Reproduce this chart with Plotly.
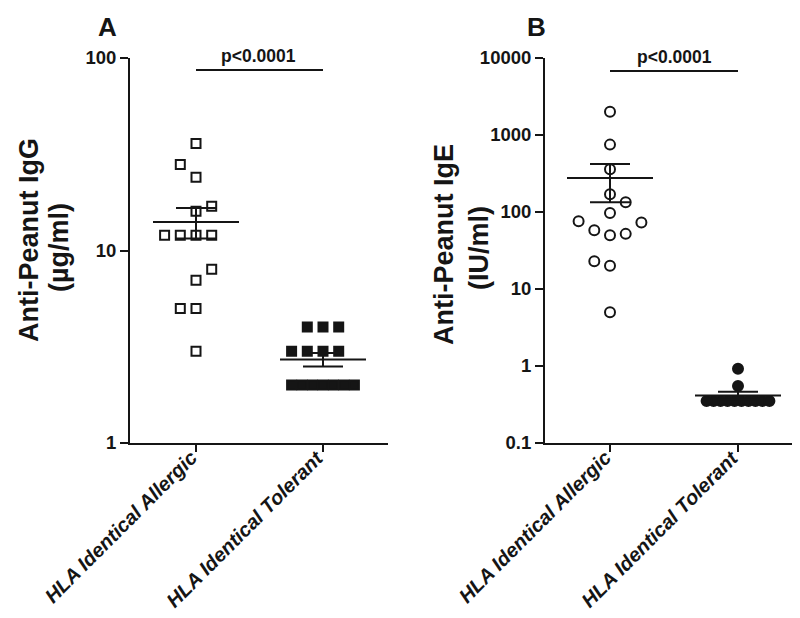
import numpy as np
import plotly.graph_objects as go

W, H = 800, 618

# ---------------- data ----------------
categories = ["HLA Identical Allergic", "HLA Identical Tolerant"]
igg_allergic = [36, 28, 24, 17, 16, 12, 12, 12, 12, 8, 7, 5, 5, 3]
igg_tolerant = [4, 4, 4, 3, 3, 3, 3, 2, 2, 2, 2, 2, 2, 2]
ige_allergic = [2000, 750, 360, 170, 134, 97, 76, 73, 58, 52, 50, 23, 20, 5]
ige_tolerant = [0.92, 0.55, 0.35, 0.35, 0.35, 0.35, 0.35, 0.35, 0.35, 0.35, 0.35, 0.35]
igg_ticks = [1, 10, 100]
ige_ticks = [0.1, 1, 10, 100, 1000, 10000]
p_label = "p<0.0001"
panel_letters = ["A", "B"]
igg_title = ["Anti-Peanut IgG", "(µg/ml)"]
ige_title = ["Anti-Peanut IgE", "(IU/ml)"]

# ---------------- geometry (pixels) ----------------
FONT = "Liberation Sans"
INK = "#151515"
# panel A
A_left, A_right, A_top, A_bot = 122, 380, 50, 435
A_cat = (188, 315)
# panel B
B_left, B_right, B_top, B_bot = 537, 790, 50, 435
B_cat = (602, 730)
SLOT_PX = 15.7


def xrange_from(left, right, cat):
    ppu = cat[1] - cat[0]
    return [(left - cat[0]) / ppu, (right - cat[0]) / ppu], ppu


A_xr, A_ppu = xrange_from(A_left, A_right, A_cat)
B_xr, B_ppu = xrange_from(B_left, B_right, B_cat)
A_ppd = (A_bot - A_top) / (np.log10(igg_ticks[-1]) - np.log10(igg_ticks[0]))
B_ppd = (B_bot - B_top) / (np.log10(ige_ticks[-1]) - np.log10(ige_ticks[0]))


def swarm(values, px_per_dec, thr_px=14.5, max_slot=2):
    v = np.asarray(values, float)
    ly = np.log10(v) * px_per_dec
    order = np.argsort(v, kind="stable")
    slots = np.zeros(len(v))
    placed = []
    sign = -1
    for i in order:
        near = [slots[j] for j in placed if abs(ly[j] - ly[i]) < thr_px]
        if 0 not in near:
            s = 0
        else:
            k = 1
            while True:
                if sign * k not in near:
                    s = sign * k
                    break
                if -sign * k not in near:
                    s = -sign * k
                    break
                k += 1
            sign = -1 if s > 0 else 1
        slots[i] = s
        placed.append(i)
    for val in np.unique(v):
        idx = np.where(v == val)[0]
        if np.abs(slots[idx]).max() > max_slot:
            idx_sorted = idx[np.argsort(slots[idx], kind="stable")]
            slots[idx_sorted] = np.linspace(-max_slot, max_slot, len(idx))
    return slots


def px2paper_x(px):
    return px / W


def px2paper_y(py):
    return 1 - py / H


fig = go.Figure()


def add_group(vals, cat_idx, ppd, ppu, xa, ya, symbol, fill):
    slots = swarm(vals, ppd)
    x = cat_idx + slots * SLOT_PX / ppu
    fig.add_trace(go.Scatter(
        x=x, y=vals, mode="markers", xaxis=xa, yaxis=ya, showlegend=False,
        marker=dict(symbol=symbol, size=9 if symbol == "square" else 10,
                    color=fill, line=dict(color=INK, width=2)),
        hoverinfo="y"))


add_group(igg_allergic, 0, A_ppd, A_ppu, "x", "y", "square", "white")
add_group(igg_tolerant, 1, A_ppd, A_ppu, "x", "y", "square", INK)
add_group(ige_allergic, 0, B_ppd, B_ppu, "x2", "y2", "circle", "white")
add_group(ige_tolerant, 1, B_ppd, B_ppu, "x2", "y2", "circle", INK)


def mean_sem_trace(groups, xa, ya, ppu):
    xs, ys = [], []
    mean_half = 43 / ppu
    cap_half = 20 / ppu
    for c, vals in groups:
        v = np.asarray(vals, float)
        m = v.mean()
        s = v.std(ddof=1) / np.sqrt(len(v))
        xs += [c - mean_half, c + mean_half, None,
               c - cap_half, c + cap_half, None,
               c - cap_half, c + cap_half, None,
               c, c, None]
        ys += [m, m, None, m + s, m + s, None, m - s, m - s, None, m - s, m + s, None]
    fig.add_trace(go.Scatter(x=xs, y=ys, mode="lines", xaxis=xa, yaxis=ya,
                             showlegend=False, hoverinfo="skip",
                             line=dict(color=INK, width=2)))


mean_sem_trace([(0, igg_allergic), (1, igg_tolerant)], "x", "y", A_ppu)
mean_sem_trace([(0, ige_allergic), (1, ige_tolerant)], "x2", "y2", B_ppu)

tickfont = dict(family=FONT, size=18.5, color=INK, weight="bold")
catfont = dict(family=FONT, size=20, color=INK, weight="bold", style="italic")

common_x = dict(tickmode="array", tickvals=[0, 1], showticklabels=False,
                ticks="outside", ticklen=7,
                tickwidth=2, tickcolor=INK, showline=True, linecolor=INK,
                linewidth=2, showgrid=False, zeroline=False, automargin=False,
                fixedrange=True)
common_y = dict(type="log", ticks="outside", ticklen=8, tickwidth=2,
                tickcolor=INK, showline=True, linecolor=INK, linewidth=2,
                showgrid=False, zeroline=False, tickfont=tickfont,
                automargin=False, fixedrange=True)

fig.update_layout(
    width=W, height=H, margin=dict(l=0, r=0, t=0, b=0),
    paper_bgcolor="white", plot_bgcolor="white", template="none",
    xaxis=dict(common_x, domain=[px2paper_x(A_left), px2paper_x(A_right)],
               range=A_xr, anchor="y"),
    yaxis=dict(common_y, domain=[px2paper_y(A_bot), px2paper_y(A_top)],
               range=[np.log10(igg_ticks[0]), np.log10(igg_ticks[-1])],
               tickvals=igg_ticks, ticktext=[str(t) for t in igg_ticks],
               anchor="x"),
    xaxis2=dict(common_x, domain=[px2paper_x(B_left), px2paper_x(B_right)],
                range=B_xr, anchor="y2"),
    yaxis2=dict(common_y, domain=[px2paper_y(B_bot), px2paper_y(B_top)],
                range=[np.log10(ige_ticks[0]), np.log10(ige_ticks[-1])],
                tickvals=ige_ticks, ticktext=[f"{t:g}" for t in ige_ticks],
                anchor="x2"),
)

# rotated category labels, anchored at their upper-right end below each tick
for xr in ("x", "x2"):
    for i, cat in enumerate(categories):
        fig.add_annotation(text=cat, xref=xr, yref="paper", x=i,
                           y=px2paper_y(437), xshift=6, textangle=-45,
                           xanchor="right", yanchor="top", showarrow=False,
                           font=catfont, borderpad=0)

# significance bars
for xr, bar_y, text_xpx in [("x", 62, 251), ("x2", 63, 666)]:
    fig.add_shape(type="line", xref=xr, yref="paper", x0=0, x1=1,
                  y0=px2paper_y(bar_y), y1=px2paper_y(bar_y),
                  line=dict(color=INK, width=2))
    fig.add_annotation(text=p_label, xref="paper", yref="paper",
                       x=px2paper_x(text_xpx), y=px2paper_y(bar_y - 2),
                       xanchor="center", yanchor="bottom", showarrow=False,
                       font=dict(family=FONT, size=17.5, color=INK, weight="bold"))

# panel letters
for letter, lx in zip(panel_letters, [99, 528]):
    fig.add_annotation(text=letter, xref="paper", yref="paper",
                       x=px2paper_x(lx), y=px2paper_y(19), xanchor="center",
                       yanchor="middle", showarrow=False,
                       font=dict(family=FONT, size=26, color=INK, weight="bold"))

# y titles (two lines each)
for lines, xs, ycs in [(igg_title, (21, 51), (232, 240)),
                       (ige_title, (436, 471), (237, 240))]:
    for txt, xp, yc in zip(lines, xs, ycs):
        fig.add_annotation(text=txt, xref="paper", yref="paper",
                           x=px2paper_x(xp), y=px2paper_y(yc), textangle=-90,
                           xanchor="center", yanchor="middle", showarrow=False,
                           font=dict(family=FONT, size=27, color=INK, weight="bold"))

fig.write_html("out.html")
